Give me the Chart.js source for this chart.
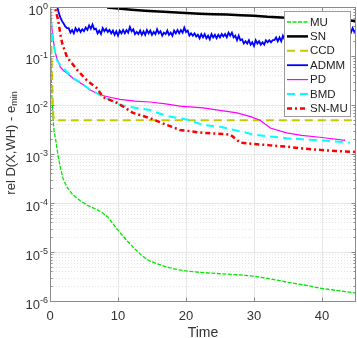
<!DOCTYPE html>
<html>
<head>
<meta charset="utf-8">
<script src="https://cdn.jsdelivr.net/npm/chart.js@4.4.0/dist/chart.umd.min.js"></script>
<style>
  body { margin: 0; background: #fff; }
  canvas { display: block; }
</style>
</head>
<body>
<canvas id="chart" width="357" height="338"></canvas>
<script>
// values (time in s, relative error)
const muT = [0, 0.05, 0.1, 0.2, 0.3, 0.45, 0.6, 0.9, 1.2, 1.5, 1.9, 2.5, 3.3, 4.4, 5.5, 6.5, 7.5, 8.5, 9.5, 10.5, 11.5, 12.5, 13.5, 14.5, 16, 17.5, 19, 20, 22, 25, 28, 30, 32, 35, 38, 40, 42, 45];
const muY = [1.0, 0.3, 0.1, 0.03, 0.012, 0.005, 0.003, 0.0017, 9e-4, 5.5e-4, 3.2e-4, 2.1e-4, 1.5e-4, 1.12e-4, 9e-5, 7.8e-5, 6.6e-5, 5.2e-5, 3.4e-5, 2.3e-5, 1.6e-5, 1.15e-5, 8.5e-6, 6.7e-6, 5.6e-6, 4.8e-6, 4.3e-6, 4.1e-6, 3.85e-6, 3.6e-6, 3.4e-6, 3.2e-6, 2.9e-6, 2.4e-6, 2.05e-6, 1.8e-6, 1.65e-6, 1.45e-6];

const snT = [8.4, 10, 12, 14, 16, 18, 20, 22, 24, 26, 28, 30, 32, 34, 36, 38, 40, 42, 44, 45];
const snY = [0.98, 0.93, 0.88, 0.84, 0.81, 0.78, 0.75, 0.73, 0.71, 0.70, 0.68, 0.66, 0.63, 0.61, 0.59, 0.57, 0.56, 0.54, 0.53, 0.52];

const ccdT = [0, 0.1, 0.2, 0.3, 0.4, 0.5, 0.6, 45];
const ccdY = [1.0, 0.5, 0.15, 0.04, 0.012, 0.006, 0.0049, 0.0049];

const admmT = [1.0, 1.25, 1.5, 1.75, 2.0, 2.25, 2.5, 2.75, 3.0, 3.25, 3.5, 3.75, 4.0, 4.25, 4.5, 4.75, 5.0, 5.25, 5.5, 5.75,
  6.0, 6.25, 6.5, 6.75, 7.0, 7.25, 7.5, 7.75, 8.0, 8.25, 8.5, 8.75, 9.0, 9.25, 9.5, 9.75, 10.0, 10.25, 10.5, 10.75,
  11.0, 11.25, 11.5, 11.75, 12.0, 12.25, 12.5, 12.75, 13.0, 13.25, 13.5, 13.75, 14.0, 14.25, 14.5, 14.75, 15.0, 15.25, 15.5, 15.75,
  16.0, 16.25, 16.5, 16.75, 17.0, 17.25, 17.5, 17.75, 18.0, 18.25, 18.5, 18.75, 19.0, 19.25, 19.5, 19.75, 20.0, 20.25, 20.5, 20.75,
  21.0, 21.25, 21.5, 21.75, 22.0, 22.25, 22.5, 22.75, 23.0, 23.25, 23.5, 23.75, 24.0, 24.25, 24.5, 24.75, 25.0, 25.25, 25.5, 25.75,
  26.0, 26.25, 26.5, 26.75, 27.0, 27.25, 27.5, 27.75, 28.0, 28.25, 28.5, 28.75, 29.0, 29.25, 29.5, 29.75, 30.0, 30.25, 30.5, 30.75,
  31.0, 31.25, 31.5, 31.75, 32.0, 32.25, 32.5, 32.75, 33.0, 33.25, 33.5, 33.75, 34.0, 34.25, 34.5,
  35, 36, 37, 38, 39, 40, 41, 42,
  43.0, 43.25, 43.5, 43.75, 44.0, 44.25, 44.5, 44.75, 45.0];
const admmY = [1.1, 0.8, 0.62, 0.52, 0.46, 0.40, 0.37, 0.37, 0.30, 0.34, 0.29, 0.37, 0.32, 0.36, 0.31, 0.35, 0.32, 0.38, 0.34, 0.42,
  0.36, 0.44, 0.35, 0.36, 0.29, 0.33, 0.28, 0.37, 0.32, 0.36, 0.31, 0.34, 0.29, 0.33, 0.27, 0.32, 0.26, 0.33, 0.29, 0.34,
  0.29, 0.34, 0.30, 0.39, 0.32, 0.35, 0.28, 0.31, 0.28, 0.33, 0.27, 0.32, 0.27, 0.34, 0.29, 0.33, 0.27, 0.31, 0.28, 0.35,
  0.29, 0.32, 0.26, 0.30, 0.28, 0.33, 0.27, 0.30, 0.26, 0.33, 0.29, 0.34, 0.29, 0.34, 0.30, 0.38, 0.31, 0.33, 0.26, 0.29,
  0.26, 0.29, 0.25, 0.27, 0.23, 0.28, 0.24, 0.28, 0.23, 0.26, 0.22, 0.28, 0.24, 0.27, 0.23, 0.27, 0.24, 0.28, 0.25, 0.28,
  0.24, 0.30, 0.26, 0.30, 0.24, 0.26, 0.21, 0.26, 0.21, 0.22, 0.18, 0.20, 0.18, 0.21, 0.17, 0.19, 0.16, 0.21, 0.18, 0.20,
  0.17, 0.19, 0.17, 0.21, 0.19, 0.21, 0.19, 0.21, 0.21, 0.24, 0.20, 0.24, 0.20, 0.26, 0.22,
  0.25, 0.23, 0.26, 0.24, 0.27, 0.25, 0.28, 0.26,
  0.29, 0.27, 0.31, 0.28, 0.33, 0.30, 0.37, 0.31, 0.33];

const pdT = [0, 0.3, 0.7, 1.0, 1.5, 2.0, 2.5, 3.5, 4.9, 6, 7.4, 9, 10.3, 12.5, 14.7, 17, 19.1, 22.5, 25, 27.5, 29.5, 30.9, 32.4, 34.8, 37, 39.7, 43.4];
const pdY = [1.0, 0.34, 0.13, 0.09, 0.06, 0.05, 0.045, 0.034, 0.026, 0.02, 0.016, 0.0142, 0.013, 0.012, 0.0115, 0.0105, 0.0095, 0.0087, 0.0078, 0.0069, 0.0058, 0.0049, 0.0034, 0.0027, 0.0024, 0.0022, 0.0019];

const bmdT = [0, 0.3, 0.6, 1.0, 1.5, 2.5, 3.5, 4.9, 6, 7.4, 8.8, 10.3, 12.5, 14.7, 16, 17.6, 19, 20.6, 22.5, 25, 27.5, 29.9, 32, 34.8, 37, 39.7, 42, 44.1];
const bmdY = [1.0, 0.3, 0.15, 0.083, 0.065, 0.047, 0.035, 0.026, 0.02, 0.016, 0.0126, 0.01, 0.0088, 0.0079, 0.0068, 0.0058, 0.0054, 0.0049, 0.0039, 0.0036, 0.003, 0.0025, 0.0023, 0.0021, 0.002, 0.0019, 0.0018, 0.0017];

const snmuT = [0.6, 0.7, 1.2, 1.5, 1.8, 2.5, 4.0, 5.4, 6.9, 7.8, 9.9, 12.2, 14.7, 17.2, 19.1, 22.5, 26.5, 28, 30, 32.4, 35, 37.2, 40, 42, 45];
const snmuY = [1.3, 1.0, 0.54, 0.29, 0.18, 0.095, 0.052, 0.032, 0.022, 0.0145, 0.011, 0.0069, 0.0054, 0.0039, 0.0031, 0.0027, 0.0025, 0.0017, 0.0016, 0.0015, 0.0014, 0.0013, 0.0012, 0.00115, 0.0011];

const xTicks = [0, 10, 20, 30, 40];
const xTickLabels = ['0', '10', '20', '30', '40'];
const yDecades = [0, -1, -2, -3, -4, -5, -6];
const yTickExps = ['0', '-1', '-2', '-3', '-4', '-5', '-6'];

const FONT = '"Liberation Sans", Arial, sans-serif';
const AXIS_COLOR = '#8a8a8a';
const TEXT_COLOR = '#333333';

function pts(ts, ys) {
    return ts.map((t, i) => ({ x: t, y: ys[i] }));
}

const datasets = [
    { label: 'MU', data: pts(muT, muY), borderColor: '#00e600', borderWidth: 1.3, borderDash: [4, 1.5] },
    { label: 'SN', data: pts(snT, snY), borderColor: '#000000', borderWidth: 2.5, borderDash: [] },
    { label: 'CCD', data: pts(ccdT, ccdY), borderColor: '#c8c800', borderWidth: 2, borderDash: [8, 5] },
    { label: 'ADMM', data: pts(admmT, admmY), borderColor: '#0000ff', borderWidth: 1.8, borderDash: [] },
    { label: 'PD', data: pts(pdT, pdY), borderColor: '#ff00ff', borderWidth: 1.2, borderDash: [] },
    { label: 'BMD', data: pts(bmdT, bmdY), borderColor: '#00ffff', borderWidth: 2, borderDash: [8, 5] },
    { label: 'SN-MU', data: pts(snmuT, snmuY), borderColor: '#ff0000', borderWidth: 2.5, borderDash: [5, 3, 2, 3] }
].map((d, i) => Object.assign(d, {
    order: 10 - i,       // later series on top, like matlab
    pointRadius: 0,
    fill: false,
    tension: 0,
    clip: 0
}));

const minorFactors = [2, 3, 4, 5, 6, 7, 8, 9];

// grid, axes box, tick labels, axis titles and legend, matlab style
const matlabAxes = {
    id: 'matlabAxes',
    beforeDatasetsDraw(chart) {
        const { ctx, chartArea: a, scales: { x, y } } = chart;
        ctx.save();
        ctx.lineWidth = 1;
        // minor y grid (dotted)
        ctx.strokeStyle = '#e4e4e4';
        ctx.setLineDash([1, 2]);
        yDecades.forEach(k => {
            if (k === 0) return;
            minorFactors.forEach(m => {
                const py = Math.round(y.getPixelForValue(m * Math.pow(10, k))) + 0.5;
                ctx.beginPath(); ctx.moveTo(a.left, py); ctx.lineTo(a.right, py); ctx.stroke();
            });
        });
        // major grid
        ctx.setLineDash([]);
        ctx.strokeStyle = '#e6e6e6';
        yDecades.forEach(k => {
            const py = Math.round(y.getPixelForValue(Math.pow(10, k))) + 0.5;
            ctx.beginPath(); ctx.moveTo(a.left, py); ctx.lineTo(a.right, py); ctx.stroke();
        });
        xTicks.forEach(v => {
            const px = Math.round(x.getPixelForValue(v)) + 0.5;
            ctx.beginPath(); ctx.moveTo(px, a.top); ctx.lineTo(px, a.bottom); ctx.stroke();
        });
        ctx.restore();
    },
    afterDatasetsDraw(chart) {
        const { ctx, chartArea: a, scales: { x, y } } = chart;
        ctx.save();
        const L = Math.round(a.left) + 0.5, R = Math.round(a.right) - 0.5;
        const T = Math.round(a.top) + 0.5, B = Math.round(a.bottom) + 0.5;

        // box
        ctx.strokeStyle = AXIS_COLOR;
        ctx.lineWidth = 1;
        ctx.strokeRect(L, T, R - L, B - T);

        // tick marks (inside, both sides)
        ctx.beginPath();
        yDecades.forEach(k => {
            const py = Math.round(y.getPixelForValue(Math.pow(10, k))) + 0.5;
            ctx.moveTo(L, py); ctx.lineTo(L + 4, py);
            ctx.moveTo(R, py); ctx.lineTo(R - 4, py);
            if (k === 0) return;
            minorFactors.forEach(m => {
                const pm = Math.round(y.getPixelForValue(m * Math.pow(10, k))) + 0.5;
                ctx.moveTo(L, pm); ctx.lineTo(L + 2, pm);
                ctx.moveTo(R, pm); ctx.lineTo(R - 2, pm);
            });
        });
        xTicks.forEach(v => {
            const px = Math.round(x.getPixelForValue(v)) + 0.5;
            ctx.moveTo(px, B); ctx.lineTo(px, B - 4);
            ctx.moveTo(px, T); ctx.lineTo(px, T + 4);
        });
        ctx.stroke();

        // y tick labels: 10 with superscript exponent
        ctx.fillStyle = TEXT_COLOR;
        ctx.textBaseline = 'alphabetic';
        yDecades.forEach((k, i) => {
            const py = y.getPixelForValue(Math.pow(10, k));
            ctx.font = '9px ' + FONT;
            ctx.textAlign = 'right';
            const expW = ctx.measureText(yTickExps[i]).width;
            ctx.fillText(yTickExps[i], 48, py + 2);
            ctx.font = '13px ' + FONT;
            ctx.fillText('10', 48 - expW, py + 8);
        });

        // x tick labels
        ctx.font = '13px ' + FONT;
        ctx.textAlign = 'center';
        xTicks.forEach((v, i) => {
            ctx.fillText(xTickLabels[i], x.getPixelForValue(v), 320);
        });

        // x title
        ctx.font = '14px ' + FONT;
        ctx.fillText('Time', (a.left + a.right) / 2, 337);

        // y title with subscript
        ctx.font = '13px ' + FONT;
        const main = 'rel D(X,WH) - e';
        const mw = ctx.measureText(main).width;
        ctx.font = '9px ' + FONT;
        const sw = ctx.measureText('min').width;
        const total = mw + sw;
        ctx.translate(11, 143 + total / 2);
        ctx.rotate(-Math.PI / 2);
        ctx.textAlign = 'left';
        ctx.textBaseline = 'middle';
        ctx.font = '13px ' + FONT;
        ctx.fillText(main, 0, 0);
        ctx.font = '9px ' + FONT;
        ctx.fillText('min', mw, 4);
        ctx.restore();

        // legend
        ctx.save();
        const lx = 284.5, ly = 11.5, lw = 66, lh = 105;
        ctx.fillStyle = '#ffffff';
        ctx.fillRect(lx, ly, lw, lh);
        ctx.strokeStyle = '#9a9a9a';
        ctx.lineWidth = 1;
        ctx.strokeRect(lx, ly, lw, lh);
        ctx.font = '11.5px ' + FONT;
        ctx.textAlign = 'left';
        ctx.textBaseline = 'middle';
        chart.data.datasets.forEach((d, i) => {
            const cy = 22 + i * 14.4;
            ctx.strokeStyle = d.borderColor;
            ctx.lineWidth = d.borderWidth;
            ctx.setLineDash(d.borderDash);
            ctx.beginPath(); ctx.moveTo(287, cy); ctx.lineTo(308, cy); ctx.stroke();
            ctx.setLineDash([]);
            ctx.fillStyle = '#222222';
            ctx.fillText(d.label, 310, cy + 0.5);
        });
        ctx.restore();
    }
};

new Chart(document.getElementById('chart'), {
    type: 'line',
    data: { datasets: datasets },
    options: {
        responsive: false,
        animation: false,
        events: [],
        layout: { padding: { top: 7, right: 1, left: 0, bottom: 0 } },
        plugins: { legend: { display: false }, tooltip: { enabled: false } },
        scales: {
            x: {
                type: 'linear', min: 0, max: 45,
                ticks: { display: false }, grid: { display: false }, border: { display: false },
                afterFit: s => { s.height = 37; }
            },
            y: {
                type: 'logarithmic', min: 1e-6, max: 1,
                ticks: { display: false }, grid: { display: false }, border: { display: false },
                afterFit: s => { s.width = 50; }
            }
        }
    },
    plugins: [matlabAxes]
});
</script>
</body>
</html>
